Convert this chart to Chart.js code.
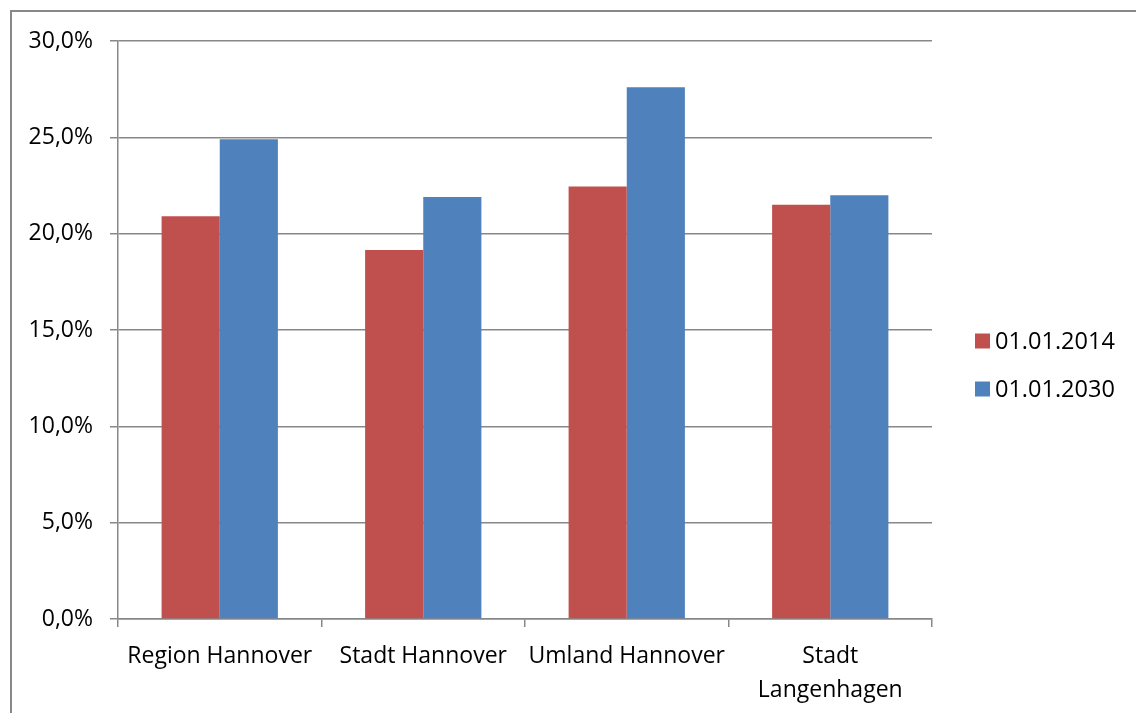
<!DOCTYPE html>
<html>
<head>
<meta charset="utf-8">
<script src="https://cdn.jsdelivr.net/npm/chart.js@4/dist/chart.umd.min.js"></script>
<style>
  html, body { margin: 0; padding: 0; background: #ffffff; }
  #wrap { width: 1136px; height: 713px; position: relative; }
</style>
</head>
<body>
<div id="wrap"><canvas id="chart" width="1136" height="713"></canvas></div>
<script>
// Categories and shares (percent)
const categories = ['Region Hannover', 'Stadt Hannover', 'Umland Hannover', ['Stadt', 'Langenhagen']];
const seriesNames = ['01.01.2014', '01.01.2030'];
const values2014 = [20.9, 19.15, 22.45, 21.5];
const values2030 = [24.9, 21.9, 27.6, 22.0];
const yTicks = { min: 0, max: 30, step: 5 };

const FONT = "'Open Sans', 'Noto Sans', sans-serif";
const GRID = '#888888';
const COLORS = ['#C0504D', '#4F81BD'];

// Grey outer frame of the chart object
const framePlugin = {
  id: 'frame',
  beforeDraw(chart) {
    const ctx = chart.ctx;
    ctx.save();
    ctx.fillStyle = '#ffffff';
    ctx.fillRect(0, 0, chart.width, chart.height);
    ctx.strokeStyle = GRID;
    ctx.lineWidth = 2;
    ctx.strokeRect(11, 11, chart.width + 20, chart.height + 20);
    ctx.restore();
  }
};

// Legend to the right of the plot, one square per dataset
const sideLegend = {
  id: 'sideLegend',
  afterDraw(chart) {
    const ctx = chart.ctx;
    const area = chart.chartArea;
    const x0 = area.right + 43;
    const y0 = 341;
    const rowGap = 48;
    ctx.save();
    ctx.font = '23.5px ' + FONT;
    ctx.textBaseline = 'middle';
    ctx.textAlign = 'left';
    chart.data.datasets.forEach((ds, i) => {
      const cy = y0 + i * rowGap;
      ctx.fillStyle = ds.backgroundColor;
      ctx.fillRect(x0, cy - 7.5, 15, 15);
      ctx.fillStyle = '#000000';
      ctx.fillText(ds.label, x0 + 20, cy + 1);
    });
    ctx.restore();
  }
};

new Chart(document.getElementById('chart'), {
  type: 'bar',
  data: {
    labels: categories,
    datasets: [
      { label: seriesNames[0], data: values2014, backgroundColor: COLORS[0] },
      { label: seriesNames[1], data: values2030, backgroundColor: COLORS[1] }
    ]
  },
  options: {
    responsive: false,
    animation: false,
    devicePixelRatio: 1,
    layout: { padding: { top: 41, right: 204, bottom: 0, left: 0 } },
    datasets: {
      bar: { barPercentage: 1, categoryPercentage: 2 / 3.5, borderWidth: 0 }
    },
    plugins: {
      legend: { display: false },
      tooltip: { enabled: false }
    },
    scales: {
      x: {
        grid: {
          display: true,
          drawOnChartArea: false,
          drawTicks: true,
          tickLength: 8,
          color: GRID,
          lineWidth: 1.5,
          offset: true
        },
        border: { display: true, color: GRID, width: 1.5 },
        ticks: {
          color: '#000000',
          font: { family: FONT, size: 23, lineHeight: 1.45 },
          padding: 13,
          maxRotation: 0,
          autoSkip: false
        },
        afterFit(scale) { scale.height = 94; }
      },
      y: {
        min: yTicks.min,
        max: yTicks.max,
        grid: {
          color: GRID,
          lineWidth: 1.5,
          tickLength: 8,
          drawTicks: true
        },
        border: { display: true, color: GRID, width: 1.5 },
        ticks: {
          stepSize: yTicks.step,
          color: '#000000',
          font: { family: FONT, size: 23 },
          padding: 17,
          callback: (v) => v.toFixed(1).replace('.', ',') + '%'
        },
        afterFit(scale) { scale.width = 118; }
      }
    }
  },
  plugins: [framePlugin, sideLegend]
});
</script>
</body>
</html>
